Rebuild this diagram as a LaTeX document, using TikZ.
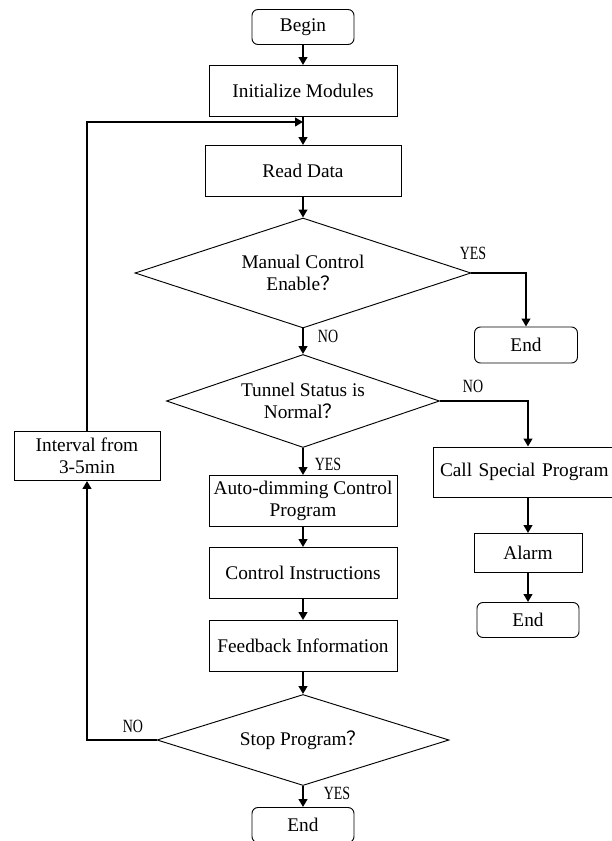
\documentclass[tikz,border=0pt]{standalone}
\usepackage{fontspec}
\setmainfont{Liberation Serif}
\newfontfamily\cjk{Noto Sans CJK SC}
\usetikzlibrary{shapes.geometric,arrows.meta}
\newcommand{\qm}{{\cjk ？}}
\newcommand{\narrowtext}[1]{\scalebox{0.75}[1]{#1}}
\begin{document}
\begin{tikzpicture}[x=0.75pt,y=-0.75pt,
    every node/.style={font=\fontsize{14.5}{16.5}\selectfont},
    box/.style={draw,line width=0.7pt,align=center,inner sep=2pt},
    term/.style={box,rounded corners=4.5pt,minimum width=76.5pt,minimum height=26.25pt},
    decision/.style={draw,diamond,line width=0.7pt,align=center,inner sep=0pt},
    lbl/.style={font=\fontsize{14}{16}\selectfont},
    arr/.style={line width=1.5pt,-{Triangle[length=6pt,width=6.5pt]}}]
    \useasboundingbox (0,0) rectangle (611,841);
    \node[term] (begin) at (303,27) {Begin};
    \node[box,minimum width=141pt,minimum height=38.25pt] (init) at (303,91) {Initialize Modules};
    \node[box,minimum width=147pt,minimum height=38.25pt] (read) at (303,171) {Read Data};
    \node[decision,aspect=3.05,minimum width=252pt,minimum height=82.5pt] (manual) at (303,273) {Manual Control\\Enable\qm};
    \node[term,minimum width=77.25pt,minimum height=27pt] (endA) at (526,345) {End};
    \node[decision,aspect=2.94,minimum width=204.75pt,minimum height=69.75pt] (tunnel) at (303,401) {Tunnel Status is\\Normal\qm};
    \node[box,minimum width=142.5pt,minimum height=37.5pt,text width=136pt,align=left] (special) at (528,472) {\hspace*{2pt}Call\ Special\ Program};
    \node[box,minimum width=81pt,minimum height=29.25pt] (alarm) at (528,553) {Alarm};
    \node[term] (endB) at (528,620) {End};
    \node[box,minimum width=141pt,minimum height=38.25pt] (auto) at (303,501) {Auto-dimming Control\\Program};
    \node[box,minimum width=141pt,minimum height=38.25pt] (ctrl) at (303,573) {Control Instructions};
    \node[box,minimum width=141pt,minimum height=38.25pt] (feed) at (303,646) {Feedback Information};
    \node[decision,aspect=3.2,minimum width=219pt,minimum height=68.25pt] (stop) at (303,740) {Stop Program\qm};
    \node[term] (endC) at (303,825) {End};
    \node[box,minimum width=109.5pt,minimum height=36.75pt] (interval) at (87,456) {Interval from\\3-5min};
    \coordinate (join) at (303,122);
    \node[lbl] (yesA) at (473,253) {\narrowtext{YES}};
    \node[lbl] (noA) at (328,336) {\narrowtext{NO}};
    \node[lbl] (noB) at (473,386) {\narrowtext{NO}};
    \node[lbl] (yesB) at (328,464) {\narrowtext{YES}};
    \node[lbl] (noC) at (133,726) {\narrowtext{NO}};
    \node[lbl] (yesC) at (337,793) {\narrowtext{YES}};
    \draw[arr] (begin) -- (init);
    \draw[arr] (init) -- (read);
    \draw[arr] (interval.north) |- (join);
    \draw[arr] (read) -- (manual);
    \draw[arr] (manual.east) -| (endA.north);
    \draw[arr] (manual.south) -- (tunnel.north);
    \draw[arr] (tunnel.east) -| (special.north);
    \draw[arr] (tunnel.south) -- (auto.north);
    \draw[arr] (special) -- (alarm);
    \draw[arr] (alarm) -- (endB);
    \draw[arr] (auto) -- (ctrl);
    \draw[arr] (ctrl) -- (feed);
    \draw[arr] (feed) -- (stop.north);
    \draw[arr] (stop.west) -| (interval.south);
    \draw[arr] (stop.south) -- (endC.north);
\end{tikzpicture}
\end{document}
